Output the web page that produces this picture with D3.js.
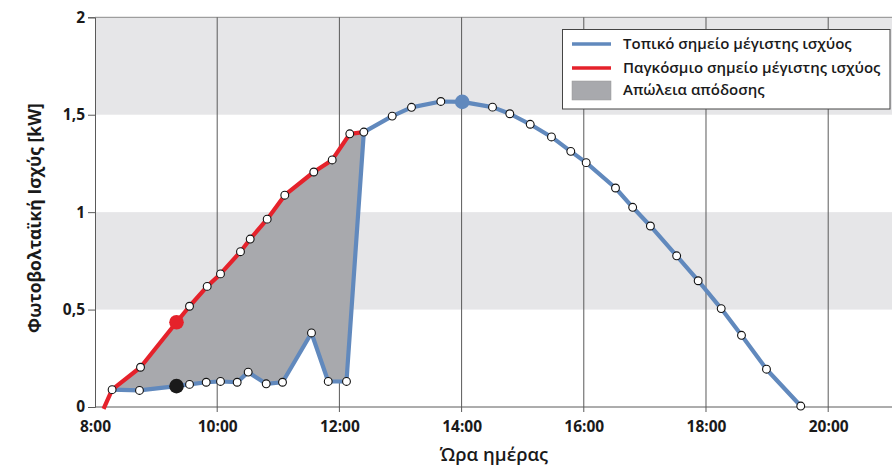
<!DOCTYPE html>
<html><head><meta charset="utf-8">
<script src="https://cdn.jsdelivr.net/npm/d3@7"></script>
<style>
html,body{margin:0;padding:0;background:#fff;}
svg{display:block;}
text{font-family:"Open Sans",sans-serif;fill:#1a1a1a;}
</style></head>
<body>
<svg id="chart" width="892" height="466"></svg>
<script>
// ---- data ----
const xTickHours = [8, 10, 12, 14, 16, 18, 20];
const xTickLabels = ["8:00", "10:00", "12:00", "14:00", "16:00", "18:00", "20:00"];
const yTicks = [0, 0.5, 1, 1.5, 2];
const yTickLabels = ["0", "0,5", "1", "1,5", "2"];
const bands = [[0.5, 1], [1.5, 2]];

// Global maximum power point tracking (red)
const redHours = [8.14, 8.28, 8.745, 9.334, 9.547, 9.836, 10.054, 10.381, 10.54, 10.818, 11.106, 11.581, 11.882, 12.17, 12.40];
const redKW    = [-0.01, 0.089, 0.204, 0.435, 0.517, 0.619, 0.683, 0.797, 0.862, 0.964, 1.087, 1.206, 1.268, 1.402, 1.411];

// Local maximum power point, shaded period (blue, lower)
const lowHours = [8.28, 8.728, 9.334, 9.547, 9.82, 10.054, 10.327, 10.507, 10.802, 11.069, 11.543, 11.817, 12.116, 12.40];
const lowKW    = [0.089, 0.085, 0.107, 0.116, 0.127, 0.131, 0.127, 0.179, 0.119, 0.127, 0.380, 0.131, 0.131, 1.411];

// Afternoon curve (blue)
const arcHours = [12.40, 12.864, 13.18, 13.66, 14.01, 14.506, 14.789, 15.123, 15.471, 15.787, 16.039, 16.519, 16.80, 17.09, 17.52, 17.872, 18.249, 18.581, 18.99, 19.551];
const arcKW    = [1.411, 1.493, 1.538, 1.568, 1.566, 1.539, 1.505, 1.451, 1.386, 1.312, 1.254, 1.124, 1.025, 0.929, 0.776, 0.648, 0.505, 0.368, 0.194, 0.005];

const highlightRed = [9.334, 0.435];
const highlightBlack = [9.334, 0.107];
const highlightBlue = [14.01, 1.566];

const legendLabels = ["Τοπικό σημείο μέγιστης ισχύος", "Παγκόσμιο σημείο μέγιστης ισχύος", "Απώλεια απόδοσης"];
const xTitle = "Ώρα ημέρας";
const yTitle = "Φωτοβολταϊκή Ισχύς [kW]";

// ---- drawing ----
const BLUE = "#6189bd", RED = "#e5222b", GRAY = "#a8a9ad", BAND = "#e6e6e8", GRID = "#5a5a5a";
const svg = d3.select("#chart");
const x = d3.scaleLinear().domain([8, 21.1]).range([95, 895.4]);
const y = d3.scaleLinear().domain([0, 2]).range([407, 17.3]);

const zip = (a, b) => a.map((v, i) => [v, b[i]]);
const red = zip(redHours, redKW), low = zip(lowHours, lowKW), arc = zip(arcHours, arcKW);

// bands
svg.selectAll("rect.band").data(bands).join("rect")
  .attr("x", x(8)).attr("width", x(21.1) - x(8))
  .attr("y", d => y(d[1])).attr("height", d => y(d[0]) - y(d[1]))
  .attr("fill", BAND);

// top line
svg.append("line").attr("x1", x(8)).attr("x2", x(21.1)).attr("y1", y(2)).attr("y2", y(2))
  .attr("stroke", "#8a8a8a").attr("stroke-width", 1);

// vertical gridlines
svg.selectAll("line.grid").data(xTickHours.slice(1)).join("line")
  .attr("x1", d => x(d)).attr("x2", d => x(d)).attr("y1", y(2)).attr("y2", y(0) + 5)
  .attr("stroke", GRID).attr("stroke-width", 1);

// axes
const yAxis = d3.axisLeft(y).tickValues(yTicks).tickFormat((d, i) => yTickLabels[i]).tickSize(7).tickPadding(3);
const gy = svg.append("g").attr("transform", `translate(${x(8)},0)`).call(yAxis);
gy.select(".domain").attr("stroke", GRID);
gy.selectAll(".tick line").attr("stroke", GRID);
gy.selectAll("text").style("font-size", "15.5px").style("font-weight", 700).attr("fill", "#1a1a1a");

const xAxis = d3.axisBottom(x).tickValues(xTickHours).tickFormat((d, i) => xTickLabels[i]).tickSize(0).tickPadding(14);
const gx = svg.append("g").attr("transform", `translate(0,${y(0)})`).call(xAxis);
gx.select(".domain").attr("stroke", GRID).attr("d", `M${x(8)},0H${x(21.1)}`);
gx.selectAll("text").style("font-size", "15.5px").style("font-weight", 700).attr("fill", "#1a1a1a");

// loss area
const line = d3.line().x(d => x(d[0])).y(d => y(d[1]));
const poly = red.slice(1).concat(low.slice().reverse());
svg.append("path").attr("d", line(poly) + "Z").attr("fill", GRAY);

// lines
svg.append("path").attr("d", line(low)).attr("fill", "none").attr("stroke", BLUE).attr("stroke-width", 4.2).attr("stroke-linejoin", "round");
svg.append("path").attr("d", line(arc)).attr("fill", "none").attr("stroke", BLUE).attr("stroke-width", 4.2).attr("stroke-linejoin", "round");
svg.append("path").attr("d", line(red)).attr("fill", "none").attr("stroke", RED).attr("stroke-width", 4.2).attr("stroke-linejoin", "round");

// markers
const isHL = d => (d[0] === highlightRed[0] && (d[1] === highlightRed[1] || d[1] === highlightBlack[1])) || (d[0] === highlightBlue[0] && d[1] === highlightBlue[1]);
const markers = red.slice(1).concat(low.slice(1, -1), arc.slice(1)).filter(d => !isHL(d));
svg.selectAll("circle.m").data(markers).join("circle")
  .attr("cx", d => x(d[0])).attr("cy", d => y(d[1])).attr("r", 3.9)
  .attr("fill", "#fff").attr("stroke", "#111").attr("stroke-width", 1.1);

// highlight dots
[[highlightRed, RED], [highlightBlack, "#1a1a1a"], [highlightBlue, BLUE]].forEach(([p, c]) => {
  svg.append("circle").attr("cx", x(p[0])).attr("cy", y(p[1])).attr("r", 7.3).attr("fill", c);
});

// legend
const lg = svg.append("g");
lg.append("rect").attr("x", 562.5).attr("y", 29.5).attr("width", 327.5).attr("height", 79.5)
  .attr("fill", "#fff").attr("stroke", "#444").attr("stroke-width", 1);
const ly = [44, 68, 90];
lg.append("line").attr("x1", 572).attr("x2", 611).attr("y1", ly[0]).attr("y2", ly[0]).attr("stroke", BLUE).attr("stroke-width", 3.5);
lg.append("line").attr("x1", 572).attr("x2", 611).attr("y1", ly[1]).attr("y2", ly[1]).attr("stroke", RED).attr("stroke-width", 3.5);
lg.append("rect").attr("x", 572).attr("y", 81).attr("width", 39).attr("height", 19).attr("fill", GRAY).attr("stroke", "#999").attr("stroke-width", 0.5);
lg.selectAll("text").data(legendLabels).join("text")
  .attr("x", 623).attr("y", (d, i) => ly[i]).attr("dy", "0.35em")
  .style("font-size", "15px").style("font-weight", 600).text(d => d);

// titles
svg.append("text").attr("x", 494).attr("y", 455).attr("dy", "0.35em").attr("text-anchor", "middle")
  .style("font-size", "18.5px").style("font-weight", 600).text(xTitle);
svg.append("text").attr("transform", "translate(35,218) rotate(-90)").attr("dy", "0.35em").attr("text-anchor", "middle")
  .style("font-size", "17.5px").style("font-weight", 700).text(yTitle);
</script>
</body></html>
